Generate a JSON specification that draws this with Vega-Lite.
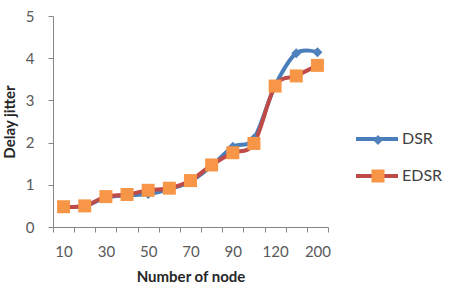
{
  "$schema": "https://vega.github.io/schema/vega-lite/v6.json",
  "width": 275,
  "height": 211,
  "autosize": "none",
  "padding": {"left": 53, "top": 16, "right": 128, "bottom": 75},
  "background": "white",
  "config": {"view": {"stroke": null}, "font": "Lato"},
  "data": {
    "values": [
      {"n": 10, "series": "DSR", "delay": 0.48},
      {"n": 20, "series": "DSR", "delay": 0.5},
      {"n": 30, "series": "DSR", "delay": 0.7},
      {"n": 40, "series": "DSR", "delay": 0.75},
      {"n": 50, "series": "DSR", "delay": 0.78},
      {"n": 60, "series": "DSR", "delay": 0.9},
      {"n": 70, "series": "DSR", "delay": 1.08},
      {"n": 80, "series": "DSR", "delay": 1.45},
      {"n": 90, "series": "DSR", "delay": 1.9},
      {"n": 100, "series": "DSR", "delay": 2.1},
      {"n": 120, "series": "DSR", "delay": 3.35},
      {"n": 150, "series": "DSR", "delay": 4.12},
      {"n": 200, "series": "DSR", "delay": 4.14},
      {"n": 10, "series": "EDSR", "delay": 0.48},
      {"n": 20, "series": "EDSR", "delay": 0.5},
      {"n": 30, "series": "EDSR", "delay": 0.72},
      {"n": 40, "series": "EDSR", "delay": 0.77},
      {"n": 50, "series": "EDSR", "delay": 0.87},
      {"n": 60, "series": "EDSR", "delay": 0.92},
      {"n": 70, "series": "EDSR", "delay": 1.1},
      {"n": 80, "series": "EDSR", "delay": 1.47},
      {"n": 90, "series": "EDSR", "delay": 1.76},
      {"n": 100, "series": "EDSR", "delay": 1.98},
      {"n": 120, "series": "EDSR", "delay": 3.34},
      {"n": 150, "series": "EDSR", "delay": 3.58},
      {"n": 200, "series": "EDSR", "delay": 3.83}
    ]
  },
  "encoding": {
    "x": {
      "field": "n",
      "type": "ordinal",
      "sort": "ascending",
      "scale": {"type": "band", "paddingInner": 0, "paddingOuter": 0},
      "axis": {
        "title": "Number of node",
        "labelAngle": 0,
        "tickBand": "extent",
        "labelExpr": "indexof([10,30,50,70,90,120,200], datum.value) >= 0 ? datum.label : ''",
        "domainColor": "#868686",
        "tickColor": "#868686",
        "tickSize": 5,
        "labelPadding": 12,
        "labelFontSize": 15,
        "labelColor": "#595959",
        "titleFontSize": 15,
        "titleFontWeight": "bold",
        "titleColor": "#262626",
        "titlePadding": 10
      }
    },
    "y": {
      "field": "delay",
      "type": "quantitative",
      "scale": {"domain": [0, 5], "nice": false},
      "axis": {
        "title": "Delay jitter",
        "values": [0, 1, 2, 3, 4, 5],
        "grid": false,
        "domainColor": "#868686",
        "tickColor": "#868686",
        "tickSize": 5,
        "labelPadding": 14,
        "labelFontSize": 15,
        "labelColor": "#595959",
        "titleFontSize": 15,
        "titleFontWeight": "bold",
        "titleColor": "#262626",
        "titlePadding": 8
      }
    }
  },
  "layer": [
    {
      "mark": {"type": "line", "interpolate": "cardinal", "strokeWidth": 4},
      "encoding": {
        "stroke": {
          "field": "series",
          "type": "nominal",
          "scale": {"domain": ["DSR", "EDSR"], "range": ["#4A7EBB", "#BE4B48"]},
          "legend": {
            "title": null,
            "orient": "none",
            "legendX": 301,
            "legendY": 100,
            "padding": 0,
            "symbolType": "stroke",
            "symbolSize": 1764,
            "symbolStrokeWidth": 4,
            "labelFontSize": 16,
            "labelColor": "#404040",
            "labelOffset": 2,
            "rowPadding": 6
          }
        }
      }
    },
    {
      "mark": {"type": "point", "filled": true, "opacity": 1},
      "encoding": {
        "fill": {
          "field": "series",
          "type": "nominal",
          "scale": {"range": ["#4F81BD", "#F79646"]},
          "legend": {
            "title": null,
            "orient": "none",
            "legendX": 317,
            "legendY": 116,
            "padding": 0,
            "labelExpr": "''",
            "labelFontSize": 16,
            "rowPadding": 18
          }
        },
        "shape": {
          "field": "series",
          "type": "nominal",
          "scale": {"range": ["diamond", "square"]}
        },
        "size": {
          "field": "series",
          "type": "nominal",
          "scale": {"range": [100, 169]}
        }
      }
    }
  ]
}
